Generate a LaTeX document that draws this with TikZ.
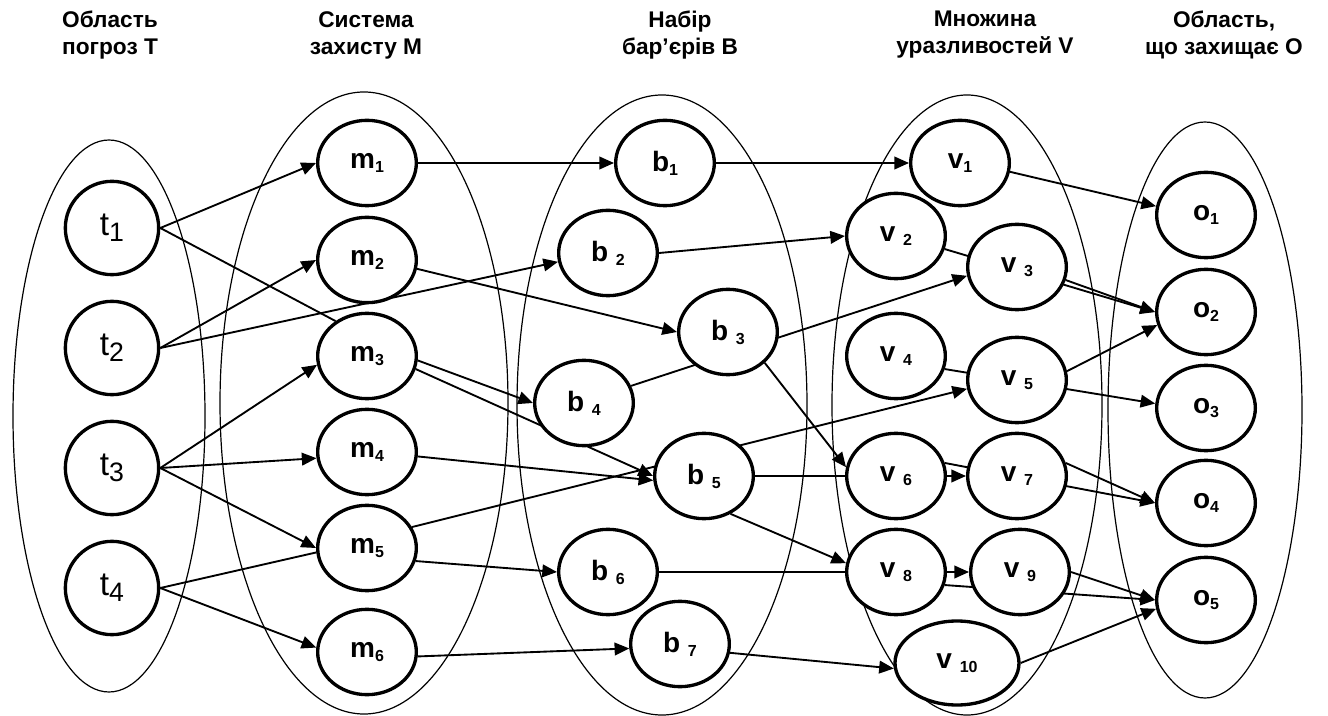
\documentclass[tikz,border=0pt]{standalone}
\usepackage{fontspec}
\setmainfont{Liberation Sans}
\usetikzlibrary{shapes.geometric,arrows.meta}
\pgfdeclarelayer{groups}
\pgfdeclarelayer{links}
\pgfsetlayers{groups,links,main}

% labels: letter with a lowered small index, tight or after a space
\newcommand{\lbl}[2]{#1\raisebox{-3pt}{\fontsize{12}{12}\selectfont #2}}
\newcommand{\lbls}[2]{#1 \raisebox{-3pt}{\fontsize{12}{12}\selectfont #2}}
\newcommand{\tlbl}[1]{t\raisebox{-4.5pt}{\fontsize{20}{20}\selectfont #1}}

\tikzset{
  every node/.style={inner sep=0pt},
  item/.style={ellipse, draw, line width=2.5pt, fill=white,
    minimum width=74pt, minimum height=64pt,
    font=\fontsize{21}{24}\selectfont\bfseries},
  threat/.style={item, minimum width=70pt, minimum height=70pt,
    font=\fontsize{25}{28}\selectfont},
  wide/.style={item, minimum width=93pt, minimum height=63pt},
  group/.style={ellipse, draw, line width=0.9pt},
  link/.style={line width=1.4pt, -{Triangle[length=11pt,width=9.5pt]}},
  plain/.style={line width=1.4pt},
  head/.style={align=center, anchor=north,
    font=\fontsize{17}{20.25}\selectfont\bfseries},
}

\begin{document}
\begin{tikzpicture}[x=0.75pt,y=-0.75pt]
\useasboundingbox (0,0) rectangle (1328,716);

% column headings
\node[head] (hT) at (110,11) {Область\\погроз Т};
\node[head] (hM) at (366,11) {Система\\захисту М};
\node[head] (hB) at (680,11) {Набір\\бар’єрів В};
\node[head] (hV) at (985,11) {Множина\\уразливостей V};
\node[head] (hO) at (1224,11) {Область,\\що захищає О};

% the five sets
\begin{pgfonlayer}{groups}
\node[group, minimum width=144pt, minimum height=414pt] (T) at (109,416) {};
\node[group, minimum width=216pt, minimum height=466.5pt] (M) at (364,403) {};
\node[group, minimum width=217.5pt, minimum height=465pt] (B) at (662,405) {};
\node[group, minimum width=202.5pt, minimum height=465pt] (V) at (967,405) {};
\node[group, minimum width=145.5pt, minimum height=432pt] (O) at (1205,410) {};
\end{pgfonlayer}

% threats
\node[threat] (t1) at (112,228) {\tlbl{1}};
\node[threat] (t2) at (112,348) {\tlbl{2}};
\node[threat] (t3) at (112,468) {\tlbl{3}};
\node[threat] (t4) at (112,588) {\tlbl{4}};

% protection means
\node[item] (m1) at (367,163) {\lbl{m}{1}};
\node[item] (m2) at (367,260) {\lbl{m}{2}};
\node[item] (m3) at (367,356) {\lbl{m}{3}};
\node[item] (m4) at (367,452) {\lbl{m}{4}};
\node[item] (m5) at (367,548) {\lbl{m}{5}};
\node[item] (m6) at (367,652) {\lbl{m}{6}};

% barriers
\node[item] (b1) at (665,163) {\lbl{b}{1}};
\node[item] (b2) at (608,253) {\lbls{b}{2}};
\node[item] (b3) at (728,332) {\lbls{b}{3}};
\node[item] (b4) at (584,403) {\lbls{b}{4}};
\node[item] (b5) at (704,476) {\lbls{b}{5}};
\node[item] (b6) at (608,572) {\lbls{b}{6}};
\node[item] (b7) at (680,644) {\lbls{b}{7}};

% vulnerabilities
\node[item] (v1) at (960,163) {\lbl{v}{1}};
\node[item] (v2) at (896,236) {\lbls{v}{2}};
\node[item] (v3) at (1017,267) {\lbls{v}{3}};
\node[item] (v4) at (896,356) {\lbls{v}{4}};
\node[item] (v5) at (1017,380) {\lbls{v}{5}};
\node[item] (v6) at (896,476) {\lbls{v}{6}};
\node[item] (v7) at (1017,476) {\lbls{v}{7}};
\node[item] (v8) at (896,572) {\lbls{v}{8}};
\node[item] (v9) at (1020,572) {\lbls{v}{9}};
\node[wide] (v10) at (957,663) {\lbls{v}{10}};

% protected objects
\node[item] (o1) at (1206,215) {\lbl{o}{1}};
\node[item] (o2) at (1206,312) {\lbl{o}{2}};
\node[item] (o3) at (1206,408) {\lbl{o}{3}};
\node[item] (o4) at (1206,503) {\lbl{o}{4}};
\node[item] (o5) at (1206,600) {\lbl{o}{5}};

\begin{pgfonlayer}{links}
% threats -> means
\draw[link]  (t1.east) -- (m1.west);
\draw[plain] (t1.east) -- (m3.132);
\draw[link]  (t2.east) -- (m2.west);
\draw[link]  (t2.east) -- (b2.190);
\draw[link]  (t3.east) -- (m3.190);
\draw[link]  (t3.east) -- (m4.187);
\draw[link]  (t3.east) -- (m5.west);
\draw[plain] (t4.east) -- (m5.185);
\draw[link]  (t4.east) -- (m6.175);
% means -> barriers
\draw[link] (m1.east) -- (b1.west);
\draw[link] (m2.350) -- (b3.west);
\draw[link] (m3.355) -- (b4.west);
\draw[link] (m3.345) -- (b5.west);
\draw[link] (m4.355) -- (b5.185);
\draw[link] (m5.25)  -- (v5.190);
\draw[link] (m5.345) -- (b6.west);
\draw[link] (m6.355) -- (b7.185);
% barriers -> vulnerabilities
\draw[link] (b1.east) -- (v1.west);
\draw[link] (b2.east) -- (v2.west);
\draw[link] (b4.20)   -- (v3.190);
\draw[link] (b3.320)  -- (v6.170);
\draw[link] (b5.east) -- (v7.west);
\draw[link] (b5.305)  -- (v8.170);
\draw[link] (b6.east) -- (v9.west);
\draw[link] (b7.350)  -- (v10.185);
% vulnerabilities -> objects
\draw[link] (v1.350)  -- (o1.170);
\draw[link] (v2.345)  -- (o2.west);
\draw[link] (v3.345)  -- (o2.west);
\draw[link] (v4.345)  -- (o3.175);
\draw[link] (v5.10)   -- (o2.195);
\draw[link] (v6.15)   -- (o4.west);
\draw[link] (v7.15)   -- (o4.west);
\draw[link] (v8.345)  -- (o5.west);
\draw[link] (v9.east) -- (o5.west);
\draw[link] (v10.east) -- (o5.190);
\end{pgfonlayer}
\end{tikzpicture}
\end{document}
